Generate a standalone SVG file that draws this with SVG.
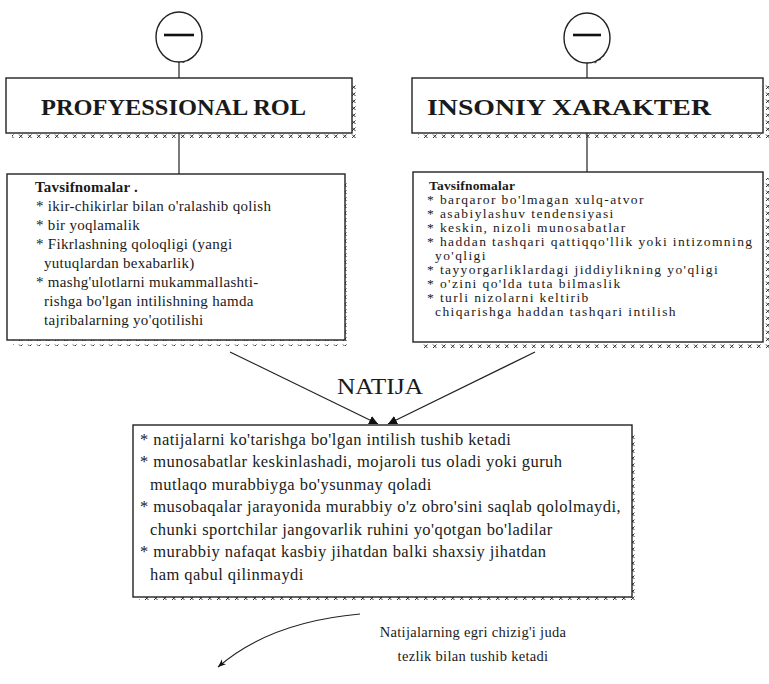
<svg xmlns="http://www.w3.org/2000/svg" width="769" height="684" viewBox="0 0 769 684">
<style>
.bx{fill:#fff;stroke:#222;stroke-width:1.4}
.sh{fill:url(#hatch)}
.ln{fill:none;stroke:#222;stroke-width:1.2}
.t{font-family:"Liberation Serif","Times New Roman",serif;fill:#1a1a1a}
.title{font-size:24px;font-weight:bold}
.l{font-size:15px;letter-spacing:0.3px}
.r{font-size:13.5px;letter-spacing:1.4px}
.res{font-size:16.5px;letter-spacing:0.45px}
.cap{font-size:14.5px;letter-spacing:0.3px}
.b{font-weight:bold;letter-spacing:0.2px}
</style>
<defs>
<pattern id="hatch" width="9" height="7" patternUnits="userSpaceOnUse">
<path d="M1 1.5l3.5 3.5M4.5 1.5l-3.5 3.5" stroke="#333" stroke-width="1"/>
</pattern>
<marker id="ah" viewBox="0 0 10 10" refX="10" refY="5" markerWidth="9" markerHeight="9" orient="auto" markerUnits="userSpaceOnUse">
<path d="M0 0L10 5L0 10z" fill="#111"/>
</marker>
<marker id="ah2" viewBox="0 0 10 10" refX="10" refY="5" markerWidth="8" markerHeight="8" orient="auto" markerUnits="userSpaceOnUse">
<path d="M0 1L10 5L0 9L3 5z" fill="#111"/>
</marker>
</defs>

<g id="connectors">
<line class="ln" x1="179" y1="62" x2="179" y2="78"/>
<line class="ln" x1="587" y1="63" x2="587" y2="78"/>
<line class="ln" x1="179" y1="133" x2="179" y2="174"/>
<line class="ln" x1="587" y1="133" x2="587" y2="172"/>
<line class="ln" x1="230" y1="352" x2="378" y2="424" marker-end="url(#ah)"/>
<line class="ln" x1="535" y1="352" x2="388" y2="424" marker-end="url(#ah)"/>
<path class="ln" d="M360 614 Q 270 622 218 667" marker-end="url(#ah2)"/>
</g>

<g id="minus-left">
<path d="M196 52 A24 25 0 0 1 181 62" fill="none" stroke="#555" stroke-width="3" stroke-dasharray="2 3"/>
<ellipse cx="179" cy="37" rx="23" ry="25" fill="#fff" stroke="#222" stroke-width="1.4"/>
<line x1="164" y1="35" x2="194" y2="35" stroke="#111" stroke-width="2.6"/>
</g>

<g id="minus-right">
<path d="M606 50 A24 25 0 0 1 592 63" fill="none" stroke="#555" stroke-width="3" stroke-dasharray="2 3"/>
<ellipse cx="587" cy="38" rx="23" ry="25" fill="#fff" stroke="#222" stroke-width="1.4"/>
<line x1="573" y1="35" x2="601" y2="35" stroke="#111" stroke-width="2.6"/>
</g>

<g id="profyessional-rol">
<rect class="sh" x="12" y="133" width="346" height="6"/>
<rect class="sh" x="352" y="84" width="6" height="49"/>
<rect class="bx" x="6" y="78" width="346" height="55"/>
<text class="t title" x="41" y="115" textLength="265" lengthAdjust="spacingAndGlyphs">PROFYESSIONAL ROL</text>
</g>

<g id="insoniy-xarakter">
<rect class="sh" x="418" y="133" width="351" height="6"/>
<rect class="sh" x="763" y="84" width="6" height="49"/>
<rect class="bx" x="412" y="78" width="351" height="55"/>
<text class="t title" x="427" y="115" textLength="284" lengthAdjust="spacingAndGlyphs">INSONIY XARAKTER</text>
</g>

<g id="left-desc">
<rect class="sh" x="13" y="340" width="338" height="6"/>
<rect class="sh" x="345" y="180" width="6" height="160"/>
<rect class="bx" x="7" y="174" width="338" height="166"/>
<text class="t l b" x="35" y="192">Tavsifnomalar .</text>
<text class="t l" x="36" y="211">* ikir-chikirlar bilan o'ralashib qolish</text>
<text class="t l" x="36" y="230">* bir yoqlamalik</text>
<text class="t l" x="36" y="249">* Fikrlashning qoloqligi (yangi</text>
<text class="t l" x="44" y="268">yutuqlardan bexabarlik)</text>
<text class="t l" x="36" y="287">* mashg'ulotlarni mukammallashti-</text>
<text class="t l" x="44" y="306">rishga bo'lgan intilishning hamda</text>
<text class="t l" x="44" y="325">tajribalarning yo'qotilishi</text>
</g>

<g id="right-desc">
<rect class="sh" x="419" y="342" width="350" height="6"/>
<rect class="sh" x="763" y="178" width="6" height="164"/>
<rect class="bx" x="413" y="172" width="350" height="170"/>
<text class="t r b" x="429" y="190">Tavsifnomalar</text>
<text class="t r" x="427" y="204">* barqaror bo'lmagan xulq-atvor</text>
<text class="t r" x="427" y="218">* asabiylashuv tendensiyasi</text>
<text class="t r" x="427" y="232">* keskin, nizoli munosabatlar</text>
<text class="t r" x="427" y="246">* haddan tashqari qattiqqo'llik yoki intizomning</text>
<text class="t r" x="435" y="260">yo'qligi</text>
<text class="t r" x="427" y="274">* tayyorgarliklardagi jiddiylikning yo'qligi</text>
<text class="t r" x="427" y="288">* o'zini qo'lda tuta bilmaslik</text>
<text class="t r" x="427" y="302">* turli nizolarni keltirib</text>
<text class="t r" x="435" y="316">chiqarishga haddan tashqari intilish</text>
</g>

<g id="natija">
<text class="t" x="337" y="394" font-size="24" textLength="86" lengthAdjust="spacingAndGlyphs">NATIJA</text>
</g>

<g id="result">
<rect class="sh" x="139" y="597" width="499" height="6"/>
<rect class="sh" x="632" y="432" width="6" height="165"/>
<rect class="bx" x="133" y="425" width="499" height="172"/>
<text class="t res" x="140" y="445">* natijalarni ko'tarishga bo'lgan intilish tushib ketadi</text>
<text class="t res" x="140" y="467">* munosabatlar keskinlashadi, mojaroli tus oladi yoki guruh</text>
<text class="t res" x="150" y="490">mutlaqo murabbiyga bo'ysunmay qoladi</text>
<text class="t res" x="140" y="512">* musobaqalar jarayonida murabbiy o'z obro'sini saqlab qololmaydi,</text>
<text class="t res" x="150" y="535">chunki sportchilar jangovarlik ruhini yo'qotgan bo'ladilar</text>
<text class="t res" x="140" y="557">* murabbiy nafaqat kasbiy jihatdan  balki shaxsiy jihatdan</text>
<text class="t res" x="150" y="580">ham qabul qilinmaydi</text>
</g>

<g id="curve-label">
<text class="t cap" x="473" y="637" text-anchor="middle">Natijalarning egri chizig'i juda</text>
<text class="t cap" x="473" y="661" text-anchor="middle">tezlik bilan tushib ketadi</text>
</g>
</svg>
